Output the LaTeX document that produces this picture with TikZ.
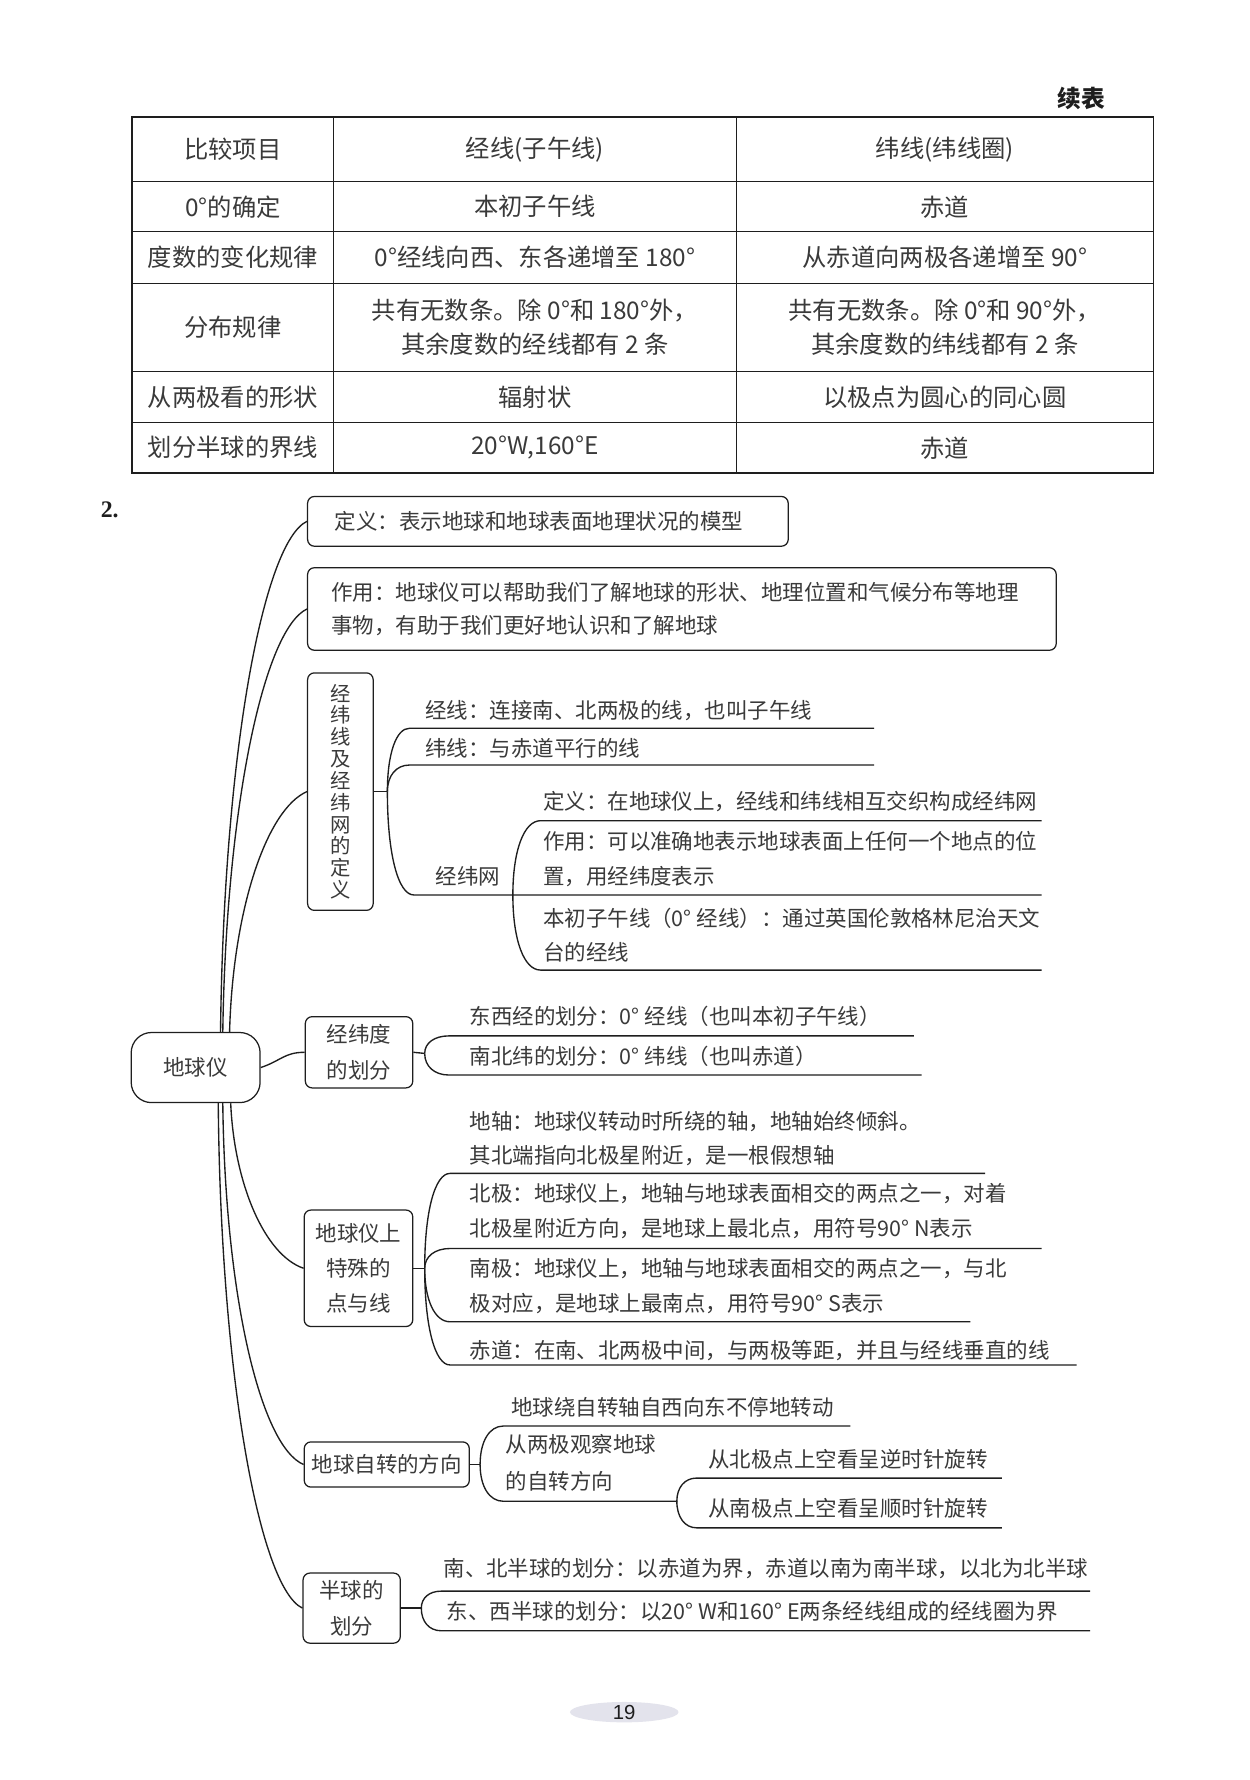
\documentclass[tikz,border=0pt]{standalone}
\usepackage{fontspec}
\setmainfont{Noto Sans CJK SC}
\newfontfamily\serifnum{Liberation Serif}
\newfontfamily\sansnum{Liberation Sans}
\usetikzlibrary{calc,shapes.geometric}
\definecolor{ink}{HTML}{1E1E1E}
\definecolor{txt}{HTML}{3A3A3A}
\definecolor{pgbg}{HTML}{E3E3EC}
\newcommand{\mmlink}[3]{\draw[conn] (#1) .. controls ($(#1)!0.6!(#1|-#2)$) and ($(#2)!0.6!(#1|-#2)$) .. (#2) -- (#3);}
\tikzset{
  conn/.style={draw=ink, line width=1.2pt},
  mbox/.style={draw=ink, line width=1.1pt, rounded corners=6pt, text=txt, font=\fontsize{19}{31}\selectfont, inner sep=0pt},
  leaf/.style={text=txt, font=\fontsize{19}{31}\selectfont, inner sep=0pt, anchor=west, align=left},
  cell/.style={text=txt, font=\fontsize{21.5}{30}\selectfont, inner sep=0pt, align=center},
}
\begin{document}
\begin{tikzpicture}[x=1pt,y=-1pt]
\useasboundingbox (0,0) rectangle (1105,1574);
\fill[white] (0,0) rectangle (1105,1574);

% ---------- header ----------
\node[font=\fontsize{21}{21}\selectfont\bfseries, text=ink] (xb) at (956,87) {续表};

% ---------- table ----------
\draw[ink, line width=1.0pt] (117,160.6) -- (1020,160.6);
\draw[ink, line width=1.0pt] (117,205) -- (1020,205);
\draw[ink, line width=1.0pt] (117,250.5) -- (1020,250.5);
\draw[ink, line width=1.0pt] (117,328.6) -- (1020,328.6);
\draw[ink, line width=1.0pt] (117,373.7) -- (1020,373.7);
\draw[ink, line width=0.7pt] (295,103.7) -- (295,418);
\draw[ink, line width=0.7pt] (651,103.7) -- (651,418);
\draw[ink, line width=1.6pt] (117,103.7) rectangle (1020,418);

\node[cell] (t11) at (206,132.2) {比较项目};
\node[cell] (t12) at (473,132.2) {经线(子午线)};
\node[cell] (t13) at (835.5,132.2) {纬线(纬线圈)};
\node[cell] (t21) at (206,182.8) {0°的确定};
\node[cell] (t22) at (473,182.8) {本初子午线};
\node[cell] (t23) at (835.5,182.8) {赤道};
\node[cell] (t31) at (206,227.8) {度数的变化规律};
\node[cell] (t32) at (473,227.8) {0°经线向西、东各递增至 180°};
\node[cell] (t33) at (835.5,227.8) {从赤道向两极各递增至 90°};
\node[cell] (t41) at (206,289.6) {分布规律};
\node[cell] (t42) at (473,289.6) {共有无数条。除 0°和 180°外，\\其余度数的经线都有 2 条};
\node[cell] (t43) at (835.5,289.6) {共有无数条。除 0°和 90°外，\\其余度数的纬线都有 2 条};
\node[cell] (t51) at (206,351.2) {从两极看的形状};
\node[cell] (t52) at (473,351.2) {辐射状};
\node[cell] (t53) at (835.5,351.2) {以极点为圆心的同心圆};
\node[cell] (t61) at (206,395.9) {划分半球的界线};
\node[cell] (t62) at (473,395.9) {20°W,160°E};
\node[cell] (t63) at (835.5,395.9) {赤道};

% ---------- section number ----------
\node[font=\serifnum\bfseries\fontsize{21}{21}\selectfont, text=ink] (two) at (97,451) {2.};

% ---------- mind map boxes ----------
\node[mbox, rounded corners=18pt, minimum width=114, minimum height=62] (root) at (173,944) {地球仪};
\node[mbox, minimum width=425, minimum height=44, text width=377, inner xsep=24, align=left] (def) at (484.5,461) {定义：表示地球和地球表面地理状况的模型};
\node[mbox, minimum width=662, minimum height=73, text width=620, inner xsep=21, align=left, font=\fontsize{19}{29.5}\selectfont] (use) at (603,538.5) {作用：地球仪可以帮助我们了解地球的形状、地理位置和气候分布等地理\\事物，有助于我们更好地认识和了解地球};
\node[mbox, minimum width=58, minimum height=210, align=center, font=\fontsize{18}{19.3}\selectfont] (grid) at (301,700) {经\\纬\\线\\及\\经\\纬\\网\\的\\定\\义};
\node[mbox, minimum width=95, minimum height=63, align=center] (latdiv) at (317.5,930.5) {经纬度\\的划分};
\node[mbox, minimum width=96, minimum height=103, align=center] (special) at (317,1121.5) {地球仪上\\特殊的\\点与线};
\node[mbox, minimum width=146, minimum height=40, align=center] (rot) at (342,1295) {地球自转的方向};
\node[mbox, minimum width=86, minimum height=62, align=center, font=\fontsize{19}{32}\selectfont] (hemi) at (311,1422) {半球的\\划分};

% ---------- trunk connectors ----------
\coordinate (rt1) at ($(root.north)+(22,0)$);
\coordinate (rt2) at ($(root.north)+(24,0)$);
\coordinate (rt3) at ($(root.north)+(30,0)$);
\coordinate (rb1) at ($(root.south)+(31,0)$);
\coordinate (rb2) at ($(root.south)+(24,0)$);
\coordinate (rb3) at ($(root.south)+(20,0)$);
\draw[conn] (rt1) .. controls ($(rt1)+(3,-250)$) and ($(def.west)+(-38,18)$) .. (def.west);
\draw[conn] (rt2) .. controls ($(rt2)+(3,-200)$) and ($(use.west)+(-38,18)$) .. (use.west);
\draw[conn] (rt3) .. controls ($(rt3)+(3,-110)$) and ($(grid.west)+(-35,15)$) .. (grid.west);
\draw[conn] (rb1) .. controls ($(rb1)+(3,70)$) and ($(special.west)+(-35,-12)$) .. (special.west);
\draw[conn] (rb2) .. controls ($(rb2)+(2,170)$) and ($(rot.west)+(-38,-16)$) .. (rot.west);
\draw[conn] (rb3) .. controls ($(rb3)+(2,240)$) and ($(hemi.west)+(-38,-18)$) .. (hemi.west);
\draw[conn] (root.east) .. controls ($(root.east)+(18,-6)$) and ($(latdiv.west)+(-18,0)$) .. (latdiv.west);

% ---------- 经纬线及经纬网的定义 ----------
\coordinate (gh) at ($(grid.east)+(12,0)$);
\draw[conn] (grid.east) -- (gh);
\node[leaf] (jx) at (376,628) {经线：连接南、北两极的线，也叫子午线};
\coordinate (jxs) at (362,644); \coordinate (jxe) at (773,644);
\mmlink{gh}{jxs}{jxe}
\node[leaf] (wx) at (376,661.7) {纬线：与赤道平行的线};
\coordinate (wxs) at (362,676.5); \coordinate (wxe) at (773,676.5);
\mmlink{gh}{wxs}{wxe}
\node[leaf] (jwn) at (385,775) {经纬网};
\coordinate (jws) at (366,791.4); \coordinate (jwe) at (921,791.4);
\mmlink{gh}{jws}{jwe}
\coordinate (sh) at (453.5,791.4);
\node[leaf] (sdef) at (480,709) {定义：在地球仪上，经线和纬线相互交织构成经纬网};
\coordinate (sds) at (478,725.7); \coordinate (sde) at (921,725.7);
\mmlink{sh}{sds}{sde}
\node[leaf] (suse) at (480,759.8) {作用：可以准确地表示地球表面上任何一个地点的位\\置，用经纬度表示};
\node[leaf, font=\fontsize{19}{29.6}\selectfont] (sprime) at (480,826.8) {本初子午线（0° 经线）：通过英国伦敦格林尼治天文\\台的经线};
\coordinate (sps) at (478,857.8); \coordinate (spe) at (921,857.8);
\mmlink{sh}{sps}{spe}

% ---------- 经纬度的划分 ----------
\coordinate (lh) at ($(latdiv.east)+(10,1)$);
\draw[conn] (latdiv.east) -- (lh);
\node[leaf] (ew) at (415,899) {东西经的划分：0° 经线（也叫本初子午线）};
\coordinate (ews) at (397,916); \coordinate (ewe) at (808,916);
\mmlink{lh}{ews}{ewe}
\node[leaf] (ns) at (415,934) {南北纬的划分：0° 纬线（也叫赤道）};
\coordinate (nss) at (397,950.6); \coordinate (nse) at (815,950.6);
\mmlink{lh}{nss}{nse}

% ---------- 地球仪上特殊的点与线 ----------
\coordinate (ph) at ($(special.east)+(10,0)$);
\draw[conn] (special.east) -- (ph);
\node[leaf, font=\fontsize{19}{29.4}\selectfont] (axis) at (415,1006.7) {地轴：地球仪转动时所绕的轴，地轴始终倾斜。\\其北端指向北极星附近，是一根假想轴};
\coordinate (axs) at (398,1037.6); \coordinate (axe) at (871,1037.6);
\mmlink{ph}{axs}{axe}
\node[leaf] (np) at (415,1070.5) {北极：地球仪上，地轴与地球表面相交的两点之一，对着\\北极星附近方向，是地球上最北点，用符号90° N表示};
\coordinate (nps) at (398,1104); \coordinate (npe) at (921,1104);
\mmlink{ph}{nps}{npe}
\node[leaf] (sp) at (415,1137) {南极：地球仪上，地轴与地球表面相交的两点之一，与北\\极对应，是地球上最南点，用符号90° S表示};
\coordinate (sps2) at (398,1168.8); \coordinate (spe2) at (858,1168.8);
\mmlink{ph}{sps2}{spe2}
\node[leaf] (equ) at (415,1194) {赤道：在南、北两极中间，与两极等距，并且与经线垂直的线};
\coordinate (eqs) at (398,1207); \coordinate (eqe) at (952,1207);
\mmlink{ph}{eqs}{eqe}

% ---------- 地球自转的方向 ----------
\coordinate (rh) at ($(rot.east)+(9,0)$);
\draw[conn] (rot.east) -- (rh);
\node[leaf] (spin) at (452,1244) {地球绕自转轴自西向东不停地转动};
\coordinate (sns) at (445,1261); \coordinate (sne) at (752,1261);
\mmlink{rh}{sns}{sne}
\node[leaf, font=\fontsize{19}{32}\selectfont] (obs) at (447,1293.5) {从两极观察地球\\的自转方向};
\coordinate (obsS) at (445,1327.5); \coordinate (oh) at (598.5,1327.5);
\mmlink{rh}{obsS}{oh}
\node[leaf] (north) at (626,1290) {从北极点上空看呈逆时针旋转};
\coordinate (nos) at (616,1307); \coordinate (noe) at (886,1307);
\mmlink{oh}{nos}{noe}
\node[leaf] (south) at (626,1334) {从南极点上空看呈顺时针旋转};
\coordinate (sos) at (616,1351); \coordinate (soe) at (886,1351);
\mmlink{oh}{sos}{soe}

% ---------- 半球的划分 ----------
\coordinate (hh) at ($(hemi.east)+(18,0)$);
\draw[conn] (hemi.east) -- (hh);
\node[leaf] (nsh) at (392,1387) {南、北半球的划分：以赤道为界，赤道以南为南半球，以北为北半球};
\coordinate (nhs) at (390,1407); \coordinate (nhe) at (964,1407);
\mmlink{hh}{nhs}{nhe}
\node[leaf] (ewh) at (395,1425) {东、西半球的划分：以20° W和160° E两条经线组成的经线圈为界};
\coordinate (ehs) at (390,1442); \coordinate (ehe) at (964,1442);
\mmlink{hh}{ehs}{ehe}

% ---------- page number ----------
\node[ellipse, fill=pgbg, minimum width=96, minimum height=18, inner sep=0pt, font=\sansnum\fontsize{18}{18}\selectfont, text=ink] (pgno) at (552,1514) {19};
\end{tikzpicture}
\end{document}
